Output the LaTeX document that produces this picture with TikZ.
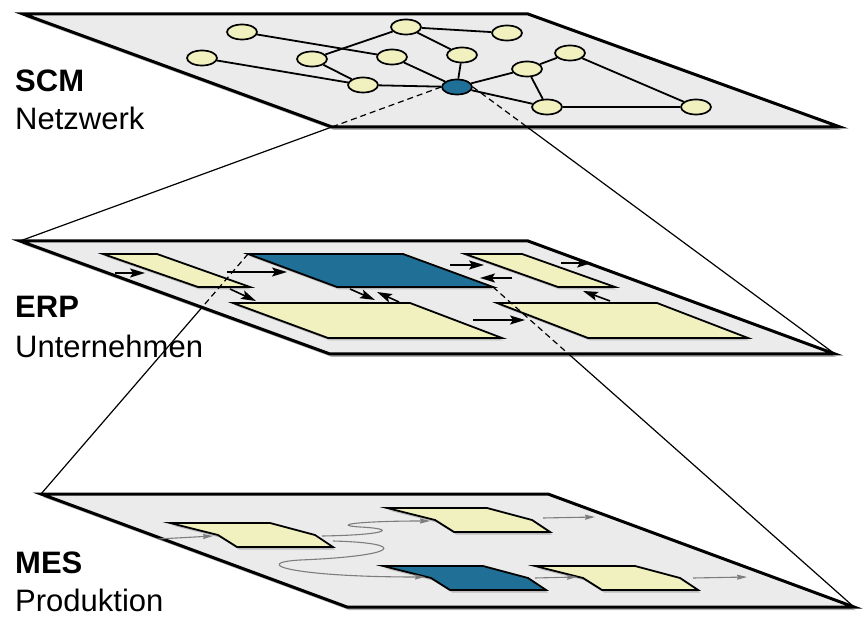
\documentclass[tikz,border=0pt]{standalone}
\usepackage{fontspec}
\setmainfont{Liberation Sans}
\usetikzlibrary{shapes.geometric,arrows.meta,shadows}

\definecolor{planegray}{RGB}{235,235,235}
\definecolor{cellyellow}{RGB}{240,241,191}
\definecolor{cellblue}{RGB}{31,111,150}
\definecolor{flowgray}{RGB}{125,125,125}

\tikzset{
  plane/.style={draw=black, fill=planegray, line width=3pt,
    drop shadow={shadow xshift=2pt, shadow yshift=-3pt, opacity=0.6}},
  site/.style={ellipse, draw=black, fill=cellyellow, line width=1.7pt,
    minimum width=30pt, minimum height=15pt, inner sep=0pt},
  link/.style={line width=1.8pt},
  cell/.style={draw=black, line width=1.8pt,
    drop shadow={shadow xshift=2pt, shadow yshift=-2.5pt, opacity=0.45}},
  guide/.style={line width=1.2pt},
  dashedguide/.style={guide, dash pattern=on 6pt off 4pt},
  flow/.style={line width=1.6pt, -{Stealth[length=15pt,width=9pt,inset=3pt]}},
  mflow/.style={draw=flowgray, line width=1.1pt, -{Stealth[length=10pt,width=5pt,inset=1pt]}},
  title/.style={anchor=base west, inner sep=0pt, font=\fontsize{31}{36}\selectfont},
  titlebold/.style={title, font=\bfseries\fontsize{31}{36}\selectfont},
}

\begin{document}
\begin{tikzpicture}[x=1pt,y=-1pt]
\useasboundingbox (0,0) rectangle (867,617);

% the three layers
\coordinate (scmTL) at (23,14);  \coordinate (scmTR) at (528,14);
\coordinate (scmBR) at (840,127); \coordinate (scmBL) at (332,127);
\coordinate (erpTL) at (20,241);  \coordinate (erpTR) at (528,241);
\coordinate (erpBR) at (835,354); \coordinate (erpBL) at (330,354);
\coordinate (mesTL) at (41,494);  \coordinate (mesTR) at (548,494);
\coordinate (mesBR) at (854,607); \coordinate (mesBL) at (347,607);

\draw[plane] (scmTL) -- (scmTR) -- (scmBR) -- (scmBL) -- cycle;
\draw[plane] (erpTL) -- (erpTR) -- (erpBR) -- (erpBL) -- cycle;
\draw[plane] (mesTL) -- (mesTR) -- (mesBR) -- (mesBL) -- cycle;

% SCM network
\node[site] (n1) at (242,32) {};
\node[site] (n2) at (406,27) {};
\node[site] (n3) at (507,33) {};
\node[site] (n4) at (202,58) {};
\node[site] (n5) at (312,59) {};
\node[site] (n6) at (392,57) {};
\node[site] (n7) at (462,55) {};
\node[site] (n8) at (363,85) {};
\node[site] (n9) at (570,53) {};
\node[site] (n10) at (527,69) {};
\node[site] (n11) at (547,107) {};
\node[site] (n12) at (696,107) {};
\node[site, fill=cellblue] (hub) at (457,87) {};
\foreach \a/\b in {n1/n6, n2/n5, n2/n3, n2/n7, n4/n8, n5/n8, n8/hub, n6/hub,
    n7/hub, hub/n10, hub/n11, n10/n9, n10/n11, n11/n12, n9/n12}
  \draw[link] (\a) -- (\b);

% ERP departments
\draw[cell, fill=cellyellow] (103,254) coordinate (r1) -- (157,254) -- (250,287) -- (198,287) -- cycle;
\draw[cell, fill=cellblue] (248,254) coordinate (r2a) -- (403,254) -- (493,287) coordinate (r2c) -- (337,287) -- cycle;
\draw[cell, fill=cellyellow] (465,254) coordinate (r3) -- (522,254) -- (615,287) -- (558,287) -- cycle;
\draw[cell, fill=cellyellow] (233,303) coordinate (r4) -- (410,303) -- (502,338) -- (328,338) -- cycle;
\draw[cell, fill=cellyellow] (497,303) coordinate (r5) -- (657,303) -- (748,338) -- (588,338) -- cycle;
\foreach \xa/\ya/\xb/\yb in {115/273/145/273, 227/272/287/272, 230/289/256/301,
    350/289/375/300, 399/302/377/292, 450/265/484/265, 512/278/480/278,
    561/263/592/263, 610/301/583/291, 473/320/525/320}
  \draw[flow] (\xa,\ya) -- (\xb,\yb);

% MES machines
\foreach \x/\y/\c in {170/523/cellyellow, 387/508/cellyellow, 383/566/cellblue, 535/566/cellyellow}
  \draw[cell, fill=\c] (\x,\y) -- ++(100,0) -- ++(45,12) -- ++(18,12) -- ++(-96,0) -- ++(-19,-12) -- cycle;
\draw[mflow] (158,539) -- (213,536);
\draw[mflow] (543,518) -- (595,517);
\draw[mflow] (535,578) -- (577,577);
\draw[mflow] (693,578) -- (747,577);
\draw[mflow] (322,536) .. controls (385,535) and (400,529) .. (360,527) .. controls (330,525) and (360,521) .. (430,521);
\draw[mflow] (333,541) .. controls (410,543) and (400,556) .. (300,560) .. controls (250,563) and (290,577) .. (425,577);

% zoom lines between layers
\coordinate (cutA) at (intersection of hub.west--erpTL and scmBL--scmBR);
\coordinate (cutB) at (intersection of hub.east--erpBR and scmBL--scmBR);
\coordinate (cutC) at (intersection of r2a--mesTL and erpTL--erpBL);
\coordinate (cutD) at (intersection of r2c--mesBR and erpBL--erpBR);
\draw[dashedguide] (hub.west) -- (cutA);
\draw[guide] (cutA) -- (erpTL);
\draw[dashedguide] (hub.east) -- (cutB);
\draw[guide] (cutB) -- (erpBR);
\draw[dashedguide] (r2a) -- (cutC);
\draw[guide] (cutC) -- (mesTL);
\draw[dashedguide] (r2c) -- (cutD);
\draw[guide] (cutD) -- (mesBR);

% layer names
\node[titlebold] (scm) at (15,92) {SCM};
\node[title] (scmsub) at (15,130) {Netzwerk};
\node[titlebold] (erp) at (15,318) {ERP};
\node[title] (erpsub) at (15,358) {Unternehmen};
\node[titlebold] (mes) at (15,573) {MES};
\node[title] (messub) at (15,611) {Produktion};
\end{tikzpicture}
\end{document}
